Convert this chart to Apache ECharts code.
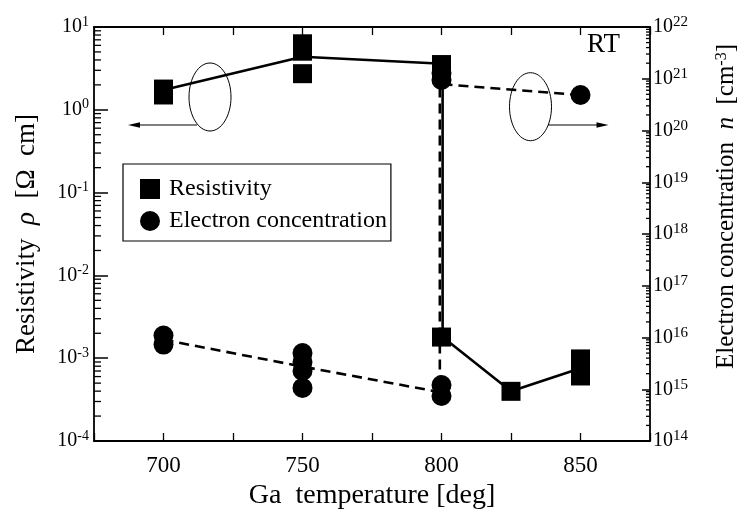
<!DOCTYPE html>
<html>
<head>
<meta charset="utf-8">
<script src="https://cdn.jsdelivr.net/npm/echarts@6/dist/echarts.min.js"></script>
<style>html,body{margin:0;padding:0;background:#fff}#c{width:739px;height:510px}</style>
</head>
<body>
<div id="c"></div>
<script>
// ---- data ----
const xTickLabels = [700, 750, 800, 850];
const resTemp = [700, 700, 750, 750, 750, 800, 800, 825, 850, 850];
const resistivity = [1.78, 1.51, 6.27, 5.1, 2.73, 3.52, 1.8e-3, 3.98e-4, 9.8e-4, 6.1e-4];
const resLineTemp = [700, 750, 800.4, 800.4, 825, 850];
const resLineVal = [1.73, 4.37, 3.6, 1.8e-3, 3.98e-4, 7.55e-4];
const elecTemp = [700, 700, 750, 750, 750, 750, 800, 800, 800, 800, 850];
const electron = [1.09e16, 7.3e15, 5.0e15, 3.36e15, 2.25e15, 1.06e15, 1.21e15, 7.4e14, 1.29e21, 9.5e20, 4.85e20];
const elecLineTemp = [700, 750, 799.4, 799.4, 850];
const elecLineVal = [9.06e15, 2.74e15, 8.8e14, 7.9e20, 4.85e20];
const leftDecades = [-4, -3, -2, -1, 0];
const rightDecades = [14, 15, 16, 17, 18, 19, 20, 21];

const FONT = 'Liberation Serif';
const zip = (a, b) => a.map((v, i) => [v, b[i]]);
function expLabel(v) {
  const e = Math.round(Math.log10(v));
  return '{b|10}{s|' + e + '}';
}
const labelRich = {
  b: { fontFamily: FONT, fontSize: 20, color: '#000', lineHeight: 24 },
  s: { fontFamily: FONT, fontSize: 14, color: '#000', verticalAlign: 'top', lineHeight: 14 }
};
const rightRich = {
  b: { fontFamily: FONT, fontSize: 20, color: '#000', lineHeight: 24 },
  s: { fontFamily: FONT, fontSize: 15, color: '#000', verticalAlign: 'top', lineHeight: 14 }
};

const chart = echarts.init(document.getElementById('c'), null, { renderer: 'canvas' });
const axisLine = { show: true, lineStyle: { color: '#000', width: 1.8 } };
const baseGraphics = [
  { type: 'ellipse', shape: { cx: 210, cy: 97, rx: 21, ry: 34 }, style: { fill: 'none', stroke: '#000', lineWidth: 1 } },
  { type: 'line', shape: { x1: 197, y1: 125, x2: 138, y2: 125 }, style: { stroke: '#000', lineWidth: 1 } },
  { type: 'polygon', shape: { points: [[128, 125], [140, 122.3], [140, 127.7]] }, style: { fill: '#000' } },
  { type: 'ellipse', shape: { cx: 530.5, cy: 106.7, rx: 21, ry: 34 }, style: { fill: 'none', stroke: '#000', lineWidth: 1 } },
  { type: 'line', shape: { x1: 548, y1: 125, x2: 598, y2: 125 }, style: { stroke: '#000', lineWidth: 1 } },
  { type: 'polygon', shape: { points: [[608.5, 125], [596.5, 122.3], [596.5, 127.7]] }, style: { fill: '#000' } },
  { type: 'text', left: 587, top: 31, style: { text: 'RT', font: '27px "Liberation Serif"', fill: '#000' } }
];
chart.setOption({
  animation: false,
  backgroundColor: '#fff',
  grid: { left: 94, right: 89, top: 27, bottom: 69, containLabel: false, outerBoundsMode: 'none' },
  legend: {
    left: 123, top: 164, orient: 'vertical',
    data: [{ name: 'Resistivity', icon: 'rect' }, { name: 'Electron concentration', icon: 'circle' }],
    itemWidth: 20, itemHeight: 20, itemGap: 8,
    padding: [13, 4, 8, 17],
    borderColor: '#000', borderWidth: 1.2, borderRadius: 0,
    textStyle: { fontFamily: FONT, fontSize: 24, color: '#000', padding: [0, 0, 0, 4] },
    itemStyle: { opacity: 1 },
    selectedMode: false
  },
  xAxis: [{
    type: 'value', min: 675, max: 875, interval: 25, position: 'bottom',
    axisLine: axisLine,
    axisTick: { show: true, inside: true, length: 8, lineStyle: { color: '#000', width: 1.3 } },
    splitLine: { show: false },
    axisLabel: {
      fontFamily: FONT, fontSize: 23, color: '#000', margin: 13,
      formatter: v => (xTickLabels.indexOf(v) >= 0 ? String(v) : '')
    },
    name: 'Ga  temperature [deg]', nameLocation: 'middle', nameGap: 38,
    nameTextStyle: { fontFamily: FONT, fontSize: 28, color: '#000' }
  }, {
    type: 'value', min: 675, max: 875, interval: 25, position: 'top',
    axisLine: axisLine,
    axisTick: { show: true, inside: true, length: 8, lineStyle: { color: '#000', width: 1.3 } },
    splitLine: { show: false }, axisLabel: { show: false }
  }],
  yAxis: [{
    type: 'log', logBase: 10, min: 1e-4, max: 10, interval: 1, position: 'left',
    axisLine: axisLine,
    axisTick: { show: true, inside: true, length: 14, lineStyle: { color: '#000', width: 1.5 } },
    splitLine: { show: false },
    axisLabel: { margin: 5, formatter: expLabel, rich: labelRich },
    name: 'Resistivity  {i|ρ}  [Ω  cm]', nameLocation: 'middle', nameGap: 54, nameRotate: 90,
    nameTextStyle: {
      fontFamily: FONT, fontSize: 27, color: '#000',
      rich: { i: { fontFamily: FONT, fontSize: 27, fontStyle: 'italic', color: '#000' } }
    }
  }, {
    type: 'log', logBase: 10, min: 1e14, max: 1e22, interval: 1, position: 'right',
    axisLine: axisLine,
    axisTick: { show: true, inside: true, length: 8, lineStyle: { color: '#000', width: 1.5 } },
    splitLine: { show: false },
    axisLabel: { margin: 3, formatter: expLabel, rich: rightRich },
    name: 'Electron concentration  {i|n}  [cm{s|-3}]', nameLocation: 'middle', nameGap: 64, nameRotate: 90,
    nameTextStyle: {
      fontFamily: FONT, fontSize: 25, color: '#000', padding: [0, 0, 0, 55],
      rich: {
        i: { fontFamily: FONT, fontSize: 25, fontStyle: 'italic', color: '#000' },
        s: { fontFamily: FONT, fontSize: 16, color: '#000', verticalAlign: 'top', lineHeight: 15 }
      }
    }
  }],
  series: [
    {
      name: 'resLine', type: 'line', yAxisIndex: 0, data: zip(resLineTemp, resLineVal),
      showSymbol: false, symbol: 'none', lineStyle: { color: '#000', width: 2.6 }, z: 2, silent: true
    },
    {
      name: 'elecLine', type: 'line', yAxisIndex: 1, data: zip(elecLineTemp, elecLineVal),
      showSymbol: false, symbol: 'none', lineStyle: { color: '#000', width: 2.6, type: [10, 6] }, z: 2, silent: true
    },
    {
      name: 'Resistivity', type: 'scatter', yAxisIndex: 0, data: zip(resTemp, resistivity),
      symbol: 'rect', symbolSize: 19, itemStyle: { color: '#000', opacity: 1 }, z: 3
    },
    {
      name: 'Electron concentration', type: 'scatter', yAxisIndex: 1, data: zip(elecTemp, electron),
      symbol: 'circle', symbolSize: 20, itemStyle: { color: '#000', opacity: 1 }, z: 3
    }
  ],
  graphic: baseGraphics
});

// minor log ticks (2..9 per decade), positioned through the axes' own scales
const grid = chart.getModel().getComponent('grid').coordinateSystem.getRect();
const ticks = [];
function addMinor(decs, yIdx, len, side) {
  decs.forEach(d => {
    for (let k = 2; k <= 9; k++) {
      const y = chart.convertToPixel({ yAxisIndex: yIdx }, k * Math.pow(10, d));
      const x0 = side === 'left' ? grid.x : grid.x + grid.width;
      const x1 = side === 'left' ? x0 + len : x0 - len;
      ticks.push({ type: 'line', silent: true, z: 50, shape: { x1: x0, y1: y, x2: x1, y2: y }, style: { stroke: '#000', lineWidth: 1.3 } });
    }
  });
}
addMinor(leftDecades, 0, 7, 'left');
addMinor(rightDecades, 1, 4, 'right');
chart.setOption({ graphic: baseGraphics.concat(ticks) });
</script>
</body>
</html>
